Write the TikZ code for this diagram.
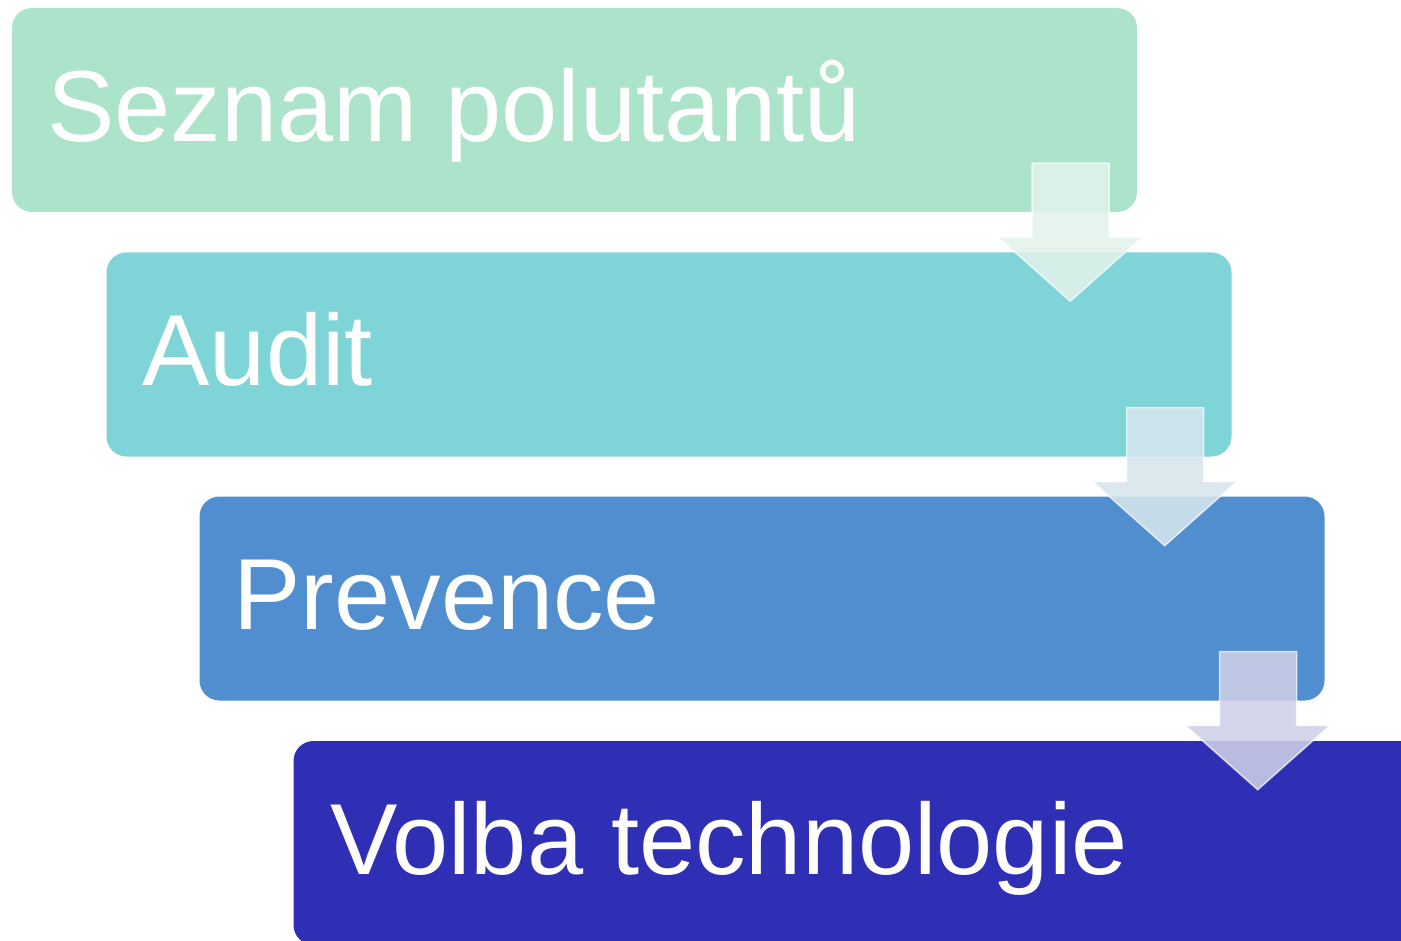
\documentclass[tikz,border=0pt]{standalone}
\usepackage{fontspec}
\setmainfont{Liberation Sans}
\definecolor{stepA}{RGB}{172,227,203}
\definecolor{stepB}{RGB}{127,212,216}
\definecolor{stepC}{RGB}{80,142,208}
\definecolor{stepD}{RGB}{47,47,181}
\definecolor{arrA}{RGB}{226,242,235}
\definecolor{arrB}{RGB}{214,230,237}
\definecolor{arrC}{RGB}{205,207,231}
\tikzset{
  stepbox/.style={rectangle, rounded corners=20pt, minimum width=1125pt,
    minimum height=204pt, inner sep=0pt, draw=none},
  steplabel/.style={anchor=base west, text=white, inner sep=0pt,
    font=\fontsize{101}{110}\selectfont},
  pics/downarrow/.style={
    code={
      \draw[fill=#1, fill opacity=0.88, draw=white, draw opacity=0.7,
            line width=1.5pt, line join=miter]
        (-105pt,49pt) -- (-28pt,49pt) -- (-28pt,-25pt) -- (5pt,-25pt)
        -- (-67pt,-89pt) -- (-139pt,-25pt) -- (-105pt,-25pt) -- cycle;
    }
  }
}
\begin{document}
\begin{tikzpicture}[x=1pt,y=-1pt]
  \clip (0,0) rectangle (1401,941);
  % four steps, each shifted right and down
  \node[stepbox, fill=stepA] (s1) at (574.5,110) {};
  \node[stepbox, fill=stepB] (s2) at (669,354.5) {};
  \node[stepbox, fill=stepC] (s3) at (762,598.5) {};
  \node[stepbox, fill=stepD] (s4) at (856,843) {};
  \node[steplabel] (t1) at ([shift={(35pt,-32pt)}]s1.west) {Seznam polutantů};
  \node[steplabel] (t2) at ([shift={(36pt,-31pt)}]s2.west) {Audit};
  \node[steplabel] (t3) at ([shift={(34pt,-31pt)}]s3.west) {Prevence};
  \node[steplabel] (t4) at ([shift={(37pt,-31pt)}]s4.west) {Volba technologie};
  % downward arrows linking consecutive steps
  \pic (a1) at (s1.south east) {downarrow=arrA};
  \pic (a2) at (s2.south east) {downarrow=arrB};
  \pic (a3) at (s3.south east) {downarrow=arrC};
\end{tikzpicture}
\end{document}
